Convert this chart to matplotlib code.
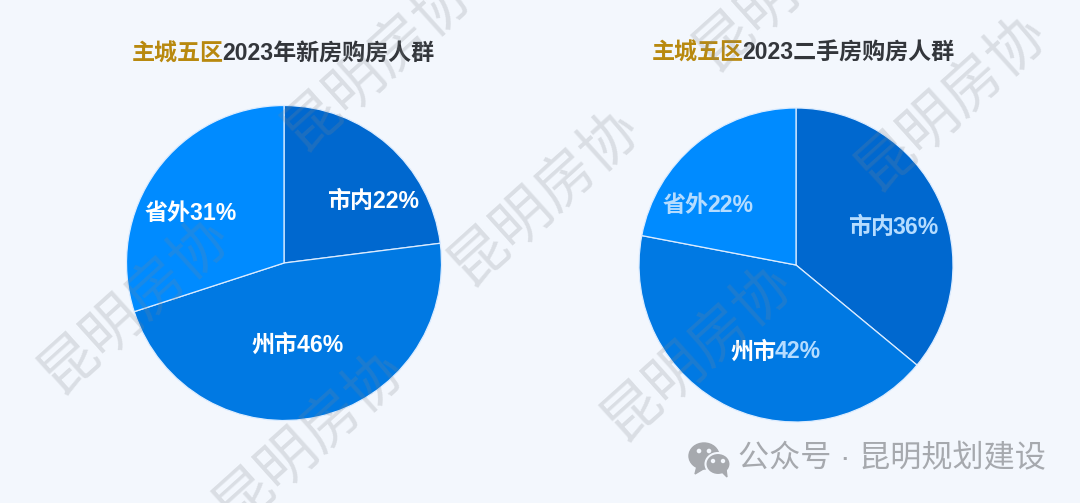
import matplotlib
matplotlib.use("Agg")
import matplotlib.pyplot as plt
from matplotlib.patches import Ellipse, Polygon, Circle

plt.rcParams['font.family'] = ['Liberation Sans', 'Noto Sans CJK SC']

BG = '#f3f7fd'
left_labels = ['市内', '州市', '省外']
left_label_pct = [22, 46, 31]
left_slices = [23, 47, 30]          # slice sizes as drawn in the picture
right_labels = ['市内', '州市', '省外']
right_label_pct = [36, 42, 22]
right_slices = [36, 42, 22]
slice_colors = ['#0068cf', '#0079e3', '#008bff']
title_prefix = '主城五区'
left_title = '2023年新房购房人群'
right_title = '2023二手房购房人群'
watermark = '昆明房协'
footer = '公众号 · 昆明规划建设'

W, H = 1080, 503
WHITE, PALE = '#ffffff', '#b5dcff'
fig = plt.figure(figsize=(W/100, H/100), dpi=100, facecolor=BG)
fig.canvas.draw()
rend = fig.canvas.get_renderer()


def chain(x, y, parts, size):
    """Left-aligned run of differently coloured text, x and y in pixels."""
    for s, c in parts:
        t = fig.text(x/W, 1-y/H, s, color=c, fontsize=size, fontweight='bold',
                     ha='left', va='center', zorder=5)
        x = t.get_window_extent(rend).x1 - 2


def pie(cx, cy, r, slices):
    ax = fig.add_axes([(cx-r)/W, 1-(cy+r)/H, 2*r/W, 2*r/H])
    ax.pie(slices, colors=slice_colors, startangle=90, counterclock=False,
           radius=1, wedgeprops=dict(edgecolor='#dcecff', linewidth=0.9))
    ax.set_xlim(-1, 1); ax.set_ylim(-1, 1)


pie(284, 263, 157.5, left_slices)
pie(796, 265, 157, right_slices)

LS = 16.6
left_pos = [(327, 202), (252, 345), (145, 214)]
right_pos = [(848, 227), (731, 352), (663, 205)]
for lab, v, (x, y) in zip(left_labels, left_label_pct, left_pos):
    chain(x, y, [(f'{lab}{v}%', WHITE)], LS)
for i, (lab, v, (x, y)) in enumerate(zip(right_labels, right_label_pct, right_pos)):
    chain(x, y, [(lab, WHITE if i == 1 else PALE), (f'{v}%', PALE)], LS)

TS = 16.6
chain(132, 54, [(title_prefix, '#b8890f'), (left_title, '#33363b')], TS)
chain(652, 53, [(title_prefix, '#b8890f'), (right_title, '#33363b')], TS)

# watermark
for x, y in [(135, 305), (378, 62), (545, 197), (310, 438), (698, 352),
             (952, 102), (790, -18)]:
    fig.text(x/W, 1-y/H, watermark, color='#7f858c', alpha=0.22, fontsize=42,
             rotation=42, ha='center', va='center', zorder=10, fontweight='light')

# footer with icon
fig.text(892/W, 1-459/H, footer, color='#a6a9ae', fontsize=22.4, ha='center',
         va='center', zorder=11)
ov = fig.add_axes([0, 0, 1, 1], zorder=12)
ov.set_xlim(0, W); ov.set_ylim(H, 0); ov.axis('off'); ov.patch.set_alpha(0)
ICON = '#a6a9ae'
ov.add_patch(Ellipse((704, 456), 30, 26, color=ICON))
ov.add_patch(Polygon([(697, 466), (695, 474), (705, 468)], color=ICON))
ov.add_patch(Ellipse((718, 464), 25, 22, ec=BG, lw=1.5, fc=ICON))
ov.add_patch(Polygon([(722, 472), (727, 477), (726, 469)], color=ICON))
for x, y, s in [(699, 451, 1.6), (709, 451, 1.6), (713, 461, 1.5), (723, 461, 1.5)]:
    ov.add_patch(Circle((x, y), s, color=BG))

fig.savefig('out.png', dpi=100, facecolor=BG)
